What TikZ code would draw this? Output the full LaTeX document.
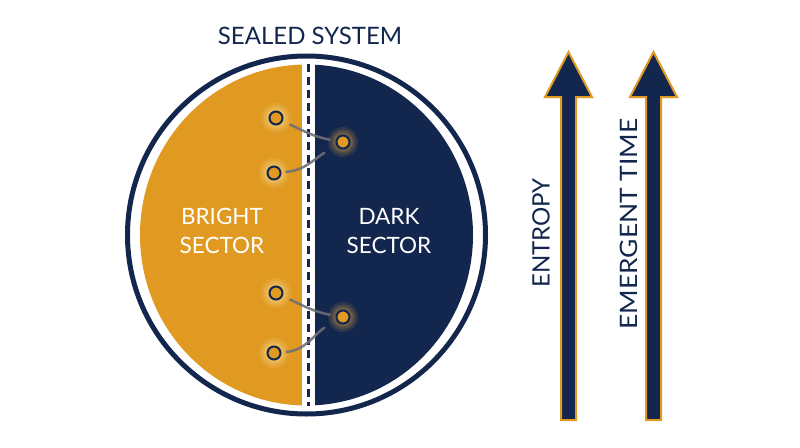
\documentclass[tikz,border=0pt]{standalone}
\usepackage{fontspec}
\setmainfont{Lato}
\definecolor{navy}{HTML}{13264D}
\definecolor{gold}{HTML}{E09A22}
\definecolor{lglow}{HTML}{FFE9A8}
\definecolor{dglow}{HTML}{F0B040}
\definecolor{linkgray}{HTML}{6E7078}
\begin{document}
\begin{tikzpicture}[x=1pt,y=-1pt,
  particle/.style={circle, minimum size=13pt, inner sep=0pt, fill=gold, draw=navy, line width=2pt},
  link/.style={draw=linkgray, line width=2.5pt, opacity=0.9, line cap=round},
  title/.style={text=navy, font=\fontsize{24}{28}\selectfont},
  sector/.style={text=white, align=center, font=\fontsize{22.5}{29}\selectfont},
  arrowlabel/.style={text=navy, rotate=90, font=\fontsize{24}{28}\selectfont},
  bigarrow/.style={fill=navy, draw=gold, line width=2pt, line join=miter}
]
\useasboundingbox (0,0) rectangle (800,447);
\fill[white] (0,0) rectangle (800,447);

% sectors
\begin{scope}
  \clip (306.5,235) ellipse [x radius=166.5, y radius=170.5];
  \fill[gold] (130,50) rectangle (302,420);
  \fill[navy] (315,50) rectangle (480,420);
  \fill[white] (302,50) rectangle (315,420);
\end{scope}
\draw[navy, line width=3pt, dash pattern=on 8pt off 5pt] (308.5,64) -- (308.5,406);
\draw[navy, line width=5pt] (306.5,235) circle [radius=179];

\node[title] (sealed) at (310,36) {SEALED SYSTEM};
\node[sector] (bright) at (222,231) {BRIGHT\\SECTOR};
\node[sector] (dark) at (389,231) {DARK\\SECTOR};

% particles with glow
\foreach \n/\x/\y/\g in {p1/276/118/lglow, p2/343/142/dglow, p3/274/173/lglow,
                         p4/276/293/lglow, p5/343/317/dglow, p6/274/353/lglow}{
  \fill[\g, opacity=0.12] (\x,\y) circle [radius=15];
  \fill[\g, opacity=0.15] (\x,\y) circle [radius=12.5];
  \fill[\g, opacity=0.2] (\x,\y) circle [radius=10];
  \node[particle] (\n) at (\x,\y) {};
}

\draw[link, shorten <=8pt, shorten >=6pt] (p1) to[out=-25, in=170] (p2);
\draw[link, shorten <=5pt, shorten >=14pt] (p3) to[out=5, in=-150] (p2);
\draw[link, shorten <=8pt, shorten >=6pt] (p4) to[out=-25, in=170] (p5);
\draw[link, shorten <=5pt, shorten >=14pt] (p6) to[out=5, in=-150] (p5);

% arrows
\draw[bigarrow] (561,420) -- (561,97) -- (545,97) -- (568.5,52) -- (592,97) -- (576,97) -- (576,420) -- cycle;
\draw[bigarrow] (646,420) -- (646,97) -- (630,97) -- (653.5,52) -- (677,97) -- (661,97) -- (661,420) -- cycle;

\node[arrowlabel] (entropy) at (541,233) {ENTROPY};
\node[arrowlabel] (time) at (629,224) {\scalebox{1.1}[1]{EMERGENT TIME}};
\end{tikzpicture}
\end{document}
